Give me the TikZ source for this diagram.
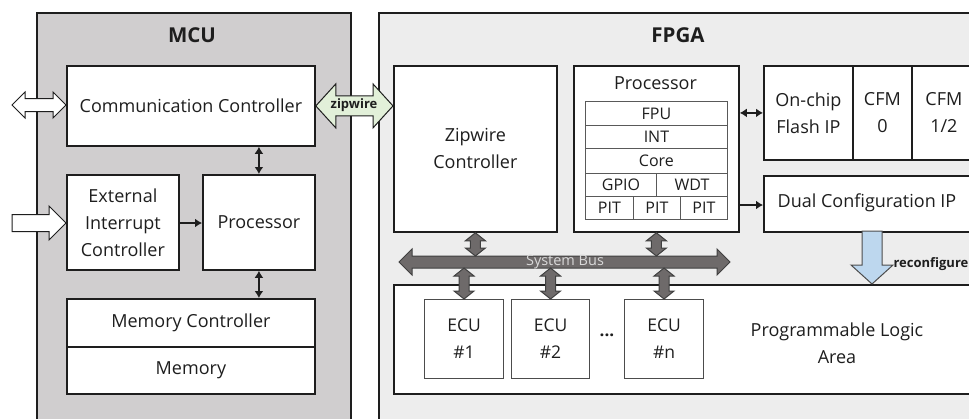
\documentclass[tikz,border=0pt]{standalone}
\usepackage{fontspec}
\setmainfont{Open Sans}
\usetikzlibrary{calc,arrows.meta}
\definecolor{mcugray}{HTML}{D0CECF}
\definecolor{fpgagray}{HTML}{EDEDED}
\definecolor{zipgreen}{HTML}{E2F0D9}
\definecolor{reconblue}{HTML}{BDD7EE}
\definecolor{busgray}{HTML}{6E6A6A}
\definecolor{ink}{HTML}{1E1E1E}
% #1 left point, #2 right point, #3 shaft half, #4 head half, #5 head length, #6 style
\newcommand\HDArrow[6]{\draw[#6] let \p1=(#1), \p2=(#2) in
 (\x1,\y1) -- (\x1+#5pt,\y1+#4pt) -- (\x1+#5pt,\y1+#3pt) -- (\x2-#5pt,\y1+#3pt) -- (\x2-#5pt,\y1+#4pt) -- (\x2,\y1)
 -- (\x2-#5pt,\y1-#4pt) -- (\x2-#5pt,\y1-#3pt) -- (\x1+#5pt,\y1-#3pt) -- (\x1+#5pt,\y1-#4pt) -- cycle;}
% #1 top point, #2 bottom point
\newcommand\VDArrow[6]{\draw[#6] let \p1=(#1), \p2=(#2) in
 (\x1,\y1) -- (\x1+#4pt,\y1-#5pt) -- (\x1+#3pt,\y1-#5pt) -- (\x1+#3pt,\y2+#5pt) -- (\x1+#4pt,\y2+#5pt) -- (\x1,\y2)
 -- (\x1-#4pt,\y2+#5pt) -- (\x1-#3pt,\y2+#5pt) -- (\x1-#3pt,\y1-#5pt) -- (\x1-#4pt,\y1-#5pt) -- cycle;}
\newcommand\HSArrow[6]{\draw[#6] let \p1=(#1), \p2=(#2) in
 (\x1,\y1+#3pt) -- (\x2-#5pt,\y1+#3pt) -- (\x2-#5pt,\y1+#4pt) -- (\x2,\y1) -- (\x2-#5pt,\y1-#4pt) -- (\x2-#5pt,\y1-#3pt) -- (\x1,\y1-#3pt) -- cycle;}
\newcommand\VSArrow[6]{\draw[#6] let \p1=(#1), \p2=(#2) in
 (\x1-#3pt,\y1) -- (\x1-#3pt,\y2+#5pt) -- (\x1-#4pt,\y2+#5pt) -- (\x1,\y2) -- (\x1+#4pt,\y2+#5pt) -- (\x1+#3pt,\y2+#5pt) -- (\x1+#3pt,\y1) -- cycle;}
\begin{document}
\begin{tikzpicture}[x=1pt,y=-1pt,
  every node/.style={text=ink},
  mainfont/.style={font=\fontsize{18}{27}\selectfont},
  outer/.style={draw=ink, line width=1.8pt, anchor=north west, inner sep=0pt},
  box/.style={draw=ink, line width=1.8pt, fill=white, inner sep=0pt, anchor=north west, align=center, mainfont},
  sub/.style={draw=black!65, line width=0.9pt, fill=white, inner sep=0pt, anchor=north west, align=center, font=\fontsize{16}{18}\selectfont},
  ecu/.style={draw=black!70, line width=1.1pt, fill=white, inner sep=0pt, anchor=north west, align=center, font=\fontsize{17.5}{27}\selectfont},
  title/.style={font=\bfseries\fontsize{20.5}{24}\selectfont},
  thin arrow/.style={{Latex[length=7pt,width=9pt]}-{Latex[length=7pt,width=9pt]}, line width=1.8pt, draw=ink},
  one arrow/.style={-{Latex[length=7pt,width=9pt]}, line width=1.8pt, draw=ink},
  hollow/.style={draw=ink, line width=1pt, fill=white},
  busarrow/.style={draw=black!75, line width=1pt, fill=busgray}]
\useasboundingbox (0,0) rectangle (969,418);
\clip (0,0) rectangle (969,418);
\fill[white] (0,0) rectangle (969,418);
% outer blocks
\node[outer, fill=mcugray, minimum width=314pt, minimum height=420pt] (mcu) at (36,12) {};
\node[outer, fill=fpgagray, minimum width=610pt, minimum height=420pt] (fpga) at (378,12) {};
\node[title] (mcut) at (192,35) {MCU};
\node[title] (fpgat) at (678,35) {FPGA};
% MCU contents
\node[box, minimum width=248pt, minimum height=80pt] (cc) at (66,65) {Communication Controller};
\node[box, minimum width=112pt, minimum height=95pt] (ext) at (66,174) {External\\Interrupt\\Controller};
\node[box, minimum width=112pt, minimum height=95pt] (mproc) at (202,174) {Processor};
\node[box, minimum width=248pt, minimum height=48pt] (memc) at (66,298) {Memory Controller};
\node[box, minimum width=248pt, minimum height=47pt] (mem) at (66,346) {Memory};
% FPGA contents
\node[box, minimum width=163pt, minimum height=166pt] (zc) at (393,65) {Zipwire\\Controller};
\node[box, minimum width=165pt, minimum height=166pt] (fproc) at (573,65) {};
\node[mainfont] (fproct) at (655.5,83) {Processor};
\node[sub, minimum width=142pt, minimum height=24pt] (fpu) at (585,101) {FPU};
\node[sub, minimum width=142pt, minimum height=23pt] (int) at (585,125) {INT};
\node[sub, minimum width=142pt, minimum height=25pt] (core) at (585,148) {Core};
\node[sub, minimum width=71pt, minimum height=23pt] (gpio) at (585,173) {GPIO};
\node[sub, minimum width=71pt, minimum height=23pt] (wdt) at (656,173) {WDT};
\node[sub, minimum width=48pt, minimum height=23pt] (pit1) at (585,196) {PIT};
\node[sub, minimum width=47pt, minimum height=23pt] (pit2) at (633,196) {PIT};
\node[sub, minimum width=47pt, minimum height=23pt] (pit3) at (680,196) {PIT};
\node[box, minimum width=89pt, minimum height=94pt] (flash) at (763,65) {On-chip\\Flash IP};
\node[box, minimum width=59pt, minimum height=94pt] (cfm0) at (852,65) {CFM\\0};
\node[box, minimum width=64pt, minimum height=94pt] (cfm12) at (911,65) {CFM\\1/2};
\node[box, minimum width=215pt, minimum height=56pt] (dual) at (763,175) {};
\node[mainfont] (dualt) at (867,203) {Dual Configuration IP};
\node[box, minimum width=590pt, minimum height=109pt] (pla) at (393,284) {};
\node[align=center, mainfont] (plat) at (837,343) {Programmable Logic\\Area};
\node[ecu, minimum width=79pt, minimum height=79pt] (ecu1) at (424,299) {ECU\\\#1};
\node[ecu, minimum width=78pt, minimum height=79pt] (ecu2) at (511,299) {ECU\\\#2};
\node[ecu, minimum width=79pt, minimum height=79pt] (ecun) at (624,299) {ECU\\\#n};
\node[font=\bfseries\fontsize{17}{20}\selectfont] (dots) at (607,335) {...};
% free ends
\coordinate (ccIn) at (12,105);
\coordinate (extIn) at (12,223);
\coordinate (busL) at (399,262);
\coordinate (busR) at (730,262);
\coordinate (busTop) at (399,256);
\coordinate (busBot) at (399,268);
\coordinate (rcTop) at (872,231);
% MCU arrows
\HDArrow{ccIn}{cc.west}{6.5}{13}{13}{hollow}
\HSArrow{extIn}{ext.west}{8.5}{17}{17}{hollow}
\draw[thin arrow] (mproc.north) -- (mproc.north |- cc.south);
\draw[thin arrow] (mproc.south) -- (mproc.south |- memc.north);
\draw[one arrow] (ext.east |- extIn) -- (mproc.west |- extIn);
% zipwire
\HDArrow{cc.east}{cc.east -| zc.west}{10}{22}{20}{draw=ink, line width=1pt, fill=zipgreen}
\node[font=\bfseries\fontsize{13}{15}\selectfont] (zipt) at (354,105) {zipwire};
% FPGA arrows
\draw[thin arrow] (flash.west -| fproc.east) -- (flash.west);
\draw[one arrow] (fproc.east |- 0,205) -- (dual.west |- 0,205);
\HDArrow{busL}{busR}{6}{13}{13}{busarrow}
\node[text=black!15, font=\fontsize{14.5}{16}\selectfont] (bus) at (565,262) {System Bus};
\VDArrow{zc.south}{zc.south |- busTop}{5}{10}{8}{busarrow}
\VDArrow{fproc.south}{fproc.south |- busTop}{5}{10}{8}{busarrow}
\VDArrow{ecu1.north |- busBot}{ecu1.north}{5}{10}{8}{busarrow}
\VDArrow{ecu2.north |- busBot}{ecu2.north}{5}{10}{8}{busarrow}
\VDArrow{ecun.north |- busBot}{ecun.north}{5}{10}{8}{busarrow}
\VSArrow{rcTop}{rcTop |- pla.north}{10}{21}{19}{draw=black!70, line width=1pt, fill=reconblue}
\node[anchor=west, font=\bfseries\fontsize{13}{15}\selectfont] (rct) at (890,264) {reconfigure};
\end{tikzpicture}
\end{document}
